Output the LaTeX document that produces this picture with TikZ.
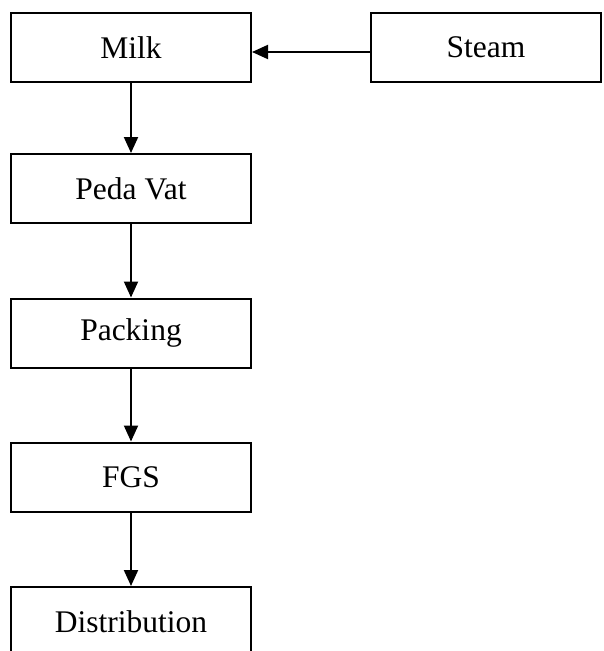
\documentclass[tikz,border=0pt]{standalone}
\usepackage{fontspec}
\setmainfont{Liberation Serif}
\usetikzlibrary{arrows.meta}
\begin{document}
\begin{tikzpicture}[x=1pt,y=-1pt,
  box/.style={draw=black,line width=2pt,minimum width=240pt,minimum height=69pt,inner sep=0pt,font=\fontsize{31.5}{36}\selectfont},
  arr/.style={line width=2pt,-{Triangle[length=16pt,width=14pt]}}]
\useasboundingbox (0,0) rectangle (603,651);
\node[box] (milk) at (131,47.5) {Milk};
\node[box,minimum width=230pt] (steam) at (486,47.5) {Steam};
\node[box] (peda) at (131,188.5) {Peda Vat};
\node[box] (pack) at (131,333) {Packing};
\node[box] (fgs) at (131,477) {FGS};
\node[box] (dist) at (131,621.5) {Distribution};
\draw[arr] (steam.west |- 0,52) -- (milk.east |- 0,52);
\draw[arr] (milk.south) -- (peda.north);
\draw[arr] (peda.south) -- (pack.north);
\draw[arr] (pack.south) -- (fgs.north);
\draw[arr] (fgs.south) -- (dist.north);
\end{tikzpicture}
\end{document}
